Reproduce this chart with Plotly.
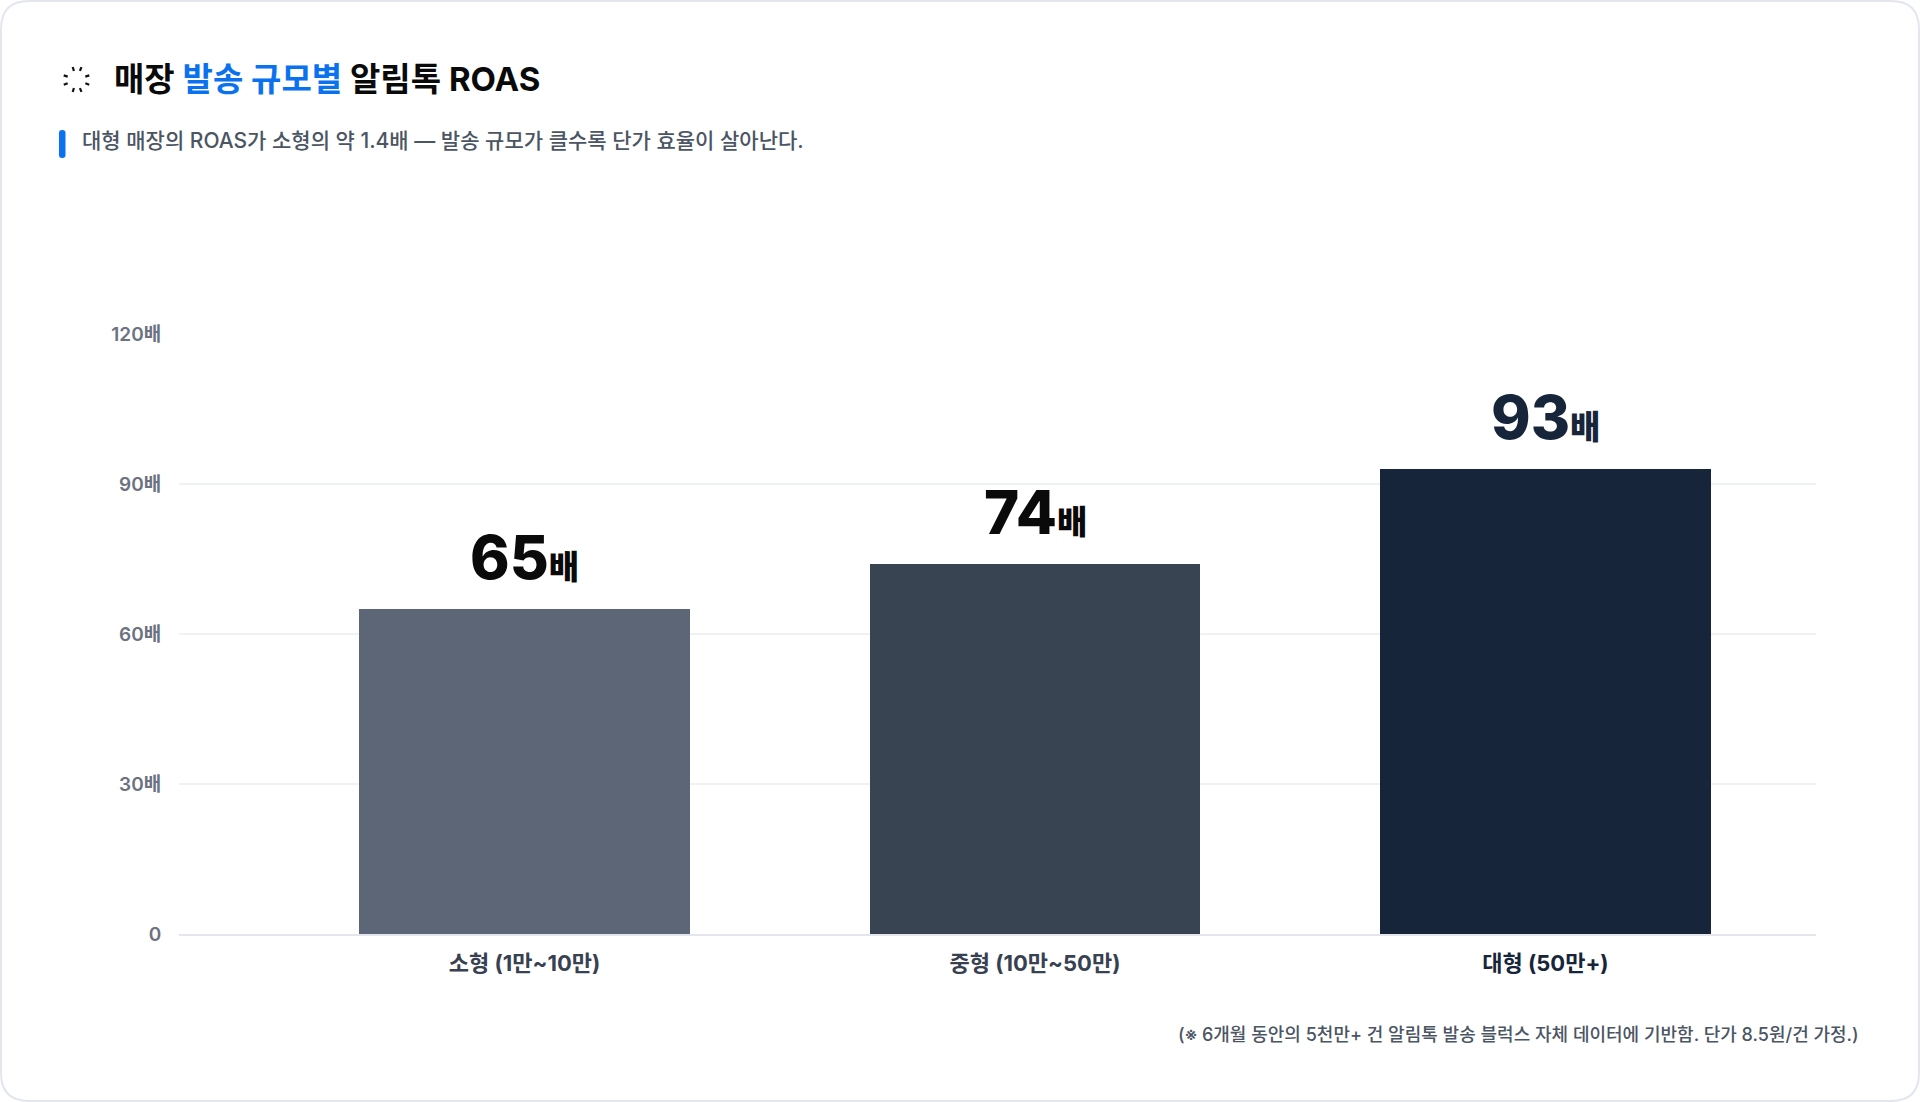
import math
import plotly.graph_objects as go

categories = ["소형 (1만~10만)", "중형 (10만~50만)", "대형 (50만+)"]
roas = [65, 74, 93]
bar_colors = ["#5c6676", "#384452", "#17253b"]
label_colors = ["#0a0a0a", "#0a0a0a", "#17253b"]
tick_colors = ["#374151", "#374151", "#17253b"]
y_ticks = [0, 30, 60, 90, 120]
y_labels = ["0", "30배", "60배", "90배", "120배"]

W, H = 1920, 1102
FONT = "Inter, 'Noto Sans CJK KR', sans-serif"
KR = "'Noto Sans CJK KR', Inter, sans-serif"

def px(x):
    return x / W

def py(y):
    return 1 - y / H

def rr(x0, y0, x1, y1, r):
    a, b, c, d = px(x0), py(y0), px(x1), py(y1)
    rx, ry = r / W, r / H
    return (f"M {a+rx} {b} L {c-rx} {b} Q {c} {b} {c} {b-ry} L {c} {d+ry} Q {c} {d} {c-rx} {d} "
            f"L {a+rx} {d} Q {a} {d} {a} {d+ry} L {a} {b-ry} Q {a} {b} {a+rx} {b} Z")

shapes = [
    dict(type="path", xref="paper", yref="paper", path=rr(1, 1, 1919, 1101, 28),
         line=dict(color="#e3e6ed", width=2), fillcolor="#ffffff", layer="below"),
    dict(type="path", xref="paper", yref="paper", path=rr(59, 130, 65.5, 158, 3),
         line=dict(width=0), fillcolor="#0a72ef"),
]
# spinner icon dashes, radial around its centre
icon_c = (76.5, 79.5)
icon_pos = [(73.3, 69), (80.7, 69), (65.7, 76), (65.7, 84), (87.3, 76), (87.3, 84), (73.3, 90), (80.7, 90)]
for x, y in icon_pos:
    dx, dy = x - icon_c[0], y - icon_c[1]
    n = math.hypot(dx, dy)
    dx, dy = dx / n * 2.1, dy / n * 2.1
    shapes.append(dict(type="line", xref="paper", yref="paper",
                       x0=px(x - dx), y0=py(y - dy), x1=px(x + dx), y1=py(y + dy),
                       line=dict(color="#111111", width=2.2)))

fig = go.Figure(go.Bar(
    x=list(range(len(categories))),
    y=roas,
    width=0.647,
    marker=dict(color=bar_colors, line=dict(width=0)),
    hoverinfo="skip",
))

annotations = [
    dict(text="<b>매장 <span style='color:#0a72ef'>발송 규모별</span> 알림톡 ROAS</b>",
         x=px(112), y=py(79), xanchor="left", yanchor="middle", xref="paper", yref="paper",
         font=dict(family=FONT, size=33, color="#0a0a0a")),
    dict(text="대형 매장의 ROAS가 소형의 약 1.4배 — 발송 규모가 클수록 단가 효율이 살아난다.",
         x=px(80), y=py(140), xanchor="left", yanchor="middle", xref="paper", yref="paper",
         font=dict(family=FONT, size=21, color="#4b5563", weight=500)),
    dict(text="(※ 6개월 동안의 5천만+ 건 알림톡 발송 블럭스 자체 데이터에 기반함. 단가 8.5원/건 가정.)",
         x=px(1861), y=py(1034), xanchor="right", yanchor="middle", xref="paper", yref="paper",
         font=dict(family=FONT, size=18, color="#4b5563", weight=500)),
]
for i, (v, c) in enumerate(zip(roas, label_colors)):
    annotations.append(dict(
        text=f"{v}<span style='font-size:33px;font-family:{KR}'>배</span>",
        x=i, y=v, xref="x", yref="y", xanchor="center", yanchor="bottom", yshift=14,
        font=dict(family=FONT, size=60, color=c, weight=800),
    ))
for a in annotations:
    a.update(showarrow=False)

fig.update_layout(
    width=W, height=H, margin=dict(l=0, r=0, t=0, b=0, autoexpand=False),
    paper_bgcolor="#ffffff", plot_bgcolor="rgba(0,0,0,0)",
    showlegend=False, shapes=shapes, annotations=annotations,
    font=dict(family=FONT),
    xaxis=dict(domain=[px(179), px(1816)], range=[-0.677, 2.53],
               tickmode="array", tickvals=list(range(len(categories))),
               ticktext=[f"<b><span style='color:{c}'>{t}</span></b>" for t, c in zip(categories, tick_colors)],
               tickfont=dict(family=FONT, size=22), showgrid=False, zeroline=False,
               showline=True, linecolor="#e3e6ed", linewidth=2, ticks="outside", ticklen=9, tickcolor="rgba(0,0,0,0)"),
    yaxis=dict(domain=[py(934), py(334)], range=[0, 120], anchor="x",
               tickmode="array", tickvals=y_ticks, ticktext=y_labels,
               tickfont=dict(family=FONT, size=19, color="#6b7280", weight=600),
               showgrid=True, gridcolor="#f0f1f4", gridwidth=1.5, zeroline=False, showline=False,
               ticks="outside", ticklen=13, tickcolor="rgba(0,0,0,0)"),
    bargap=0,
)

fig.write_html("out.html", config={"displayModeBar": False},
               post_script="document.body.style.margin='0';document.body.style.overflow='hidden';")
